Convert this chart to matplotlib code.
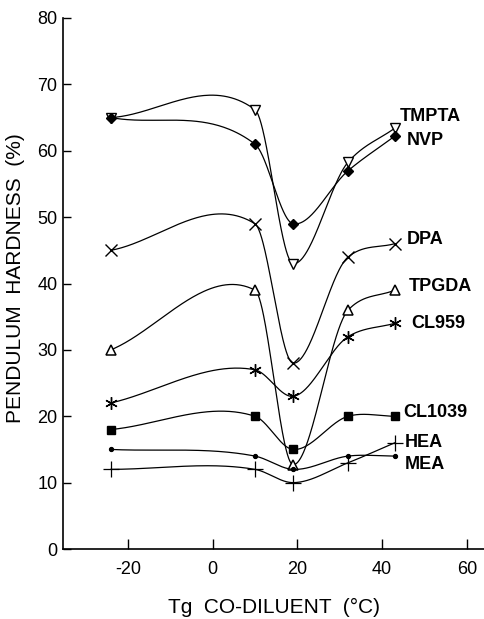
import matplotlib
matplotlib.use("Agg")
import matplotlib.pyplot as plt
import numpy as np

plt.rcParams["font.family"] = ["Liberation Sans", "DejaVu Sans"]
plt.rcParams["axes.unicode_minus"] = False

# Tg of the co-diluent (deg C) at which each series was measured
tg = [-24, 10, 19, 32, 43]

tmpta = [65, 66.2, 43, 58.3, 63.4]
nvp = [65, 61, 49, 57, 62.2]
dpa = [45, 49, 28, 44, 46]
tpgda = [30, 39, 12.7, 36, 39]
cl959 = [22, 27, 23, 32, 34]
cl1039 = [18, 20, 15, 20, 20]
hea = [12, 12, 10, 13, 16]
mea = [15, 14, 12, 14, 14]

names = ["TMPTA", "NVP", "DPA", "TPGDA", "CL959", "CL1039", "HEA", "MEA"]
series = [tmpta, nvp, dpa, tpgda, cl959, cl1039, hea, mea]

# marker style per series
styles = {
    "TMPTA": dict(marker="v", ms=7, mfc="white", mew=1.0),
    "NVP": dict(marker="D", ms=5.5, mfc="black", mew=1.0),
    "DPA": dict(marker="x", ms=8, mew=1.0),
    "TPGDA": dict(marker="^", ms=7, mfc="white", mew=1.1),
    "CL959": dict(marker=(6, 2, 0), ms=9, mew=1.0),
    "CL1039": dict(marker="s", ms=5.5, mfc="black", mew=1.0),
    "HEA": dict(marker="+", ms=11, mew=0.9),
    "MEA": dict(marker="o", ms=3, mfc="black", mew=0.8),
}

# where the series names sit at the right-hand end of the curves
label_pos = {
    "TMPTA": (44.2, 65.1),
    "NVP": (45.8, 61.6),
    "DPA": (45.8, 46.6),
    "TPGDA": (46.3, 39.6),
    "CL959": (47.0, 34.0),
    "CL1039": (45.1, 20.6),
    "HEA": (45.3, 16.0),
    "MEA": (45.3, 12.7),
}

XLIM = (-35.3, 64.3)
YLIM = (0, 80)


def smooth_curve(x, y, sx, sy, n=80):
    """Cubic Hermite y(x); knot slopes bisect the neighbouring chords as seen on screen."""
    x = np.asarray(x, float)
    y = np.asarray(y, float)
    dx, dy = np.diff(x) * sx, np.diff(y) * sy
    u = np.column_stack([dx, dy]) / np.hypot(dx, dy)[:, None]
    dirs = np.vstack([u[0], u[:-1] + u[1:], u[-1]])
    m = (dirs[:, 1] / dirs[:, 0]) * sx / sy  # back to data slope
    xs_all, ys_all = [], []
    for i in range(len(x) - 1):
        h = x[i + 1] - x[i]
        s = np.linspace(0, 1, n)
        h00 = 2 * s**3 - 3 * s**2 + 1
        h10 = s**3 - 2 * s**2 + s
        h01 = -2 * s**3 + 3 * s**2
        h11 = s**3 - s**2
        xs_all.append(x[i] + s * h)
        ys_all.append(h00 * y[i] + h10 * h * m[i] + h01 * y[i + 1] + h11 * h * m[i + 1])
    return np.concatenate(xs_all), np.concatenate(ys_all)


fig = plt.figure(figsize=(4.85, 6.19), dpi=100)
ax = fig.add_axes([63 / 485, 1 - 549 / 619, 1 - 63 / 485, (549 - 18) / 619])

# screen pixels per data unit, so the curves bend the same way on the page
sx = 422 / (XLIM[1] - XLIM[0])
sy = 531 / (YLIM[1] - YLIM[0])

for name, vals in zip(names, series):
    cx, cy = smooth_curve(tg, vals, sx, sy)
    ax.plot(cx, cy, color="black", lw=0.9)
    ax.plot(tg, vals, ls="none", color="black", mec="black", **styles[name])
    lx, ly = label_pos[name]
    ax.text(lx, ly, name, fontsize=13, fontweight="bold", ha="left", va="center")

ax.set_xlim(*XLIM)
ax.set_ylim(*YLIM)
ax.set_xticks([-20, 0, 20, 40, 60])
ax.set_yticks(range(0, 81, 10))
ax.spines["top"].set_visible(False)
ax.spines["right"].set_visible(False)
for s in ("left", "bottom"):
    ax.spines[s].set_linewidth(1.2)
ax.tick_params(axis="x", direction="in", length=7, width=1, labelsize=13, pad=9)
ax.tick_params(axis="y", direction="in", length=6, width=1, labelsize=13, pad=4)

ax.set_xlabel("Tg  CO-DILUENT  (°C)", fontsize=15, labelpad=14)
ax.set_ylabel("PENDULUM  HARDNESS  (%)", fontsize=15)
ax.yaxis.set_label_coords(-0.09, 0.51)

fig.savefig("out.png", dpi=100)
